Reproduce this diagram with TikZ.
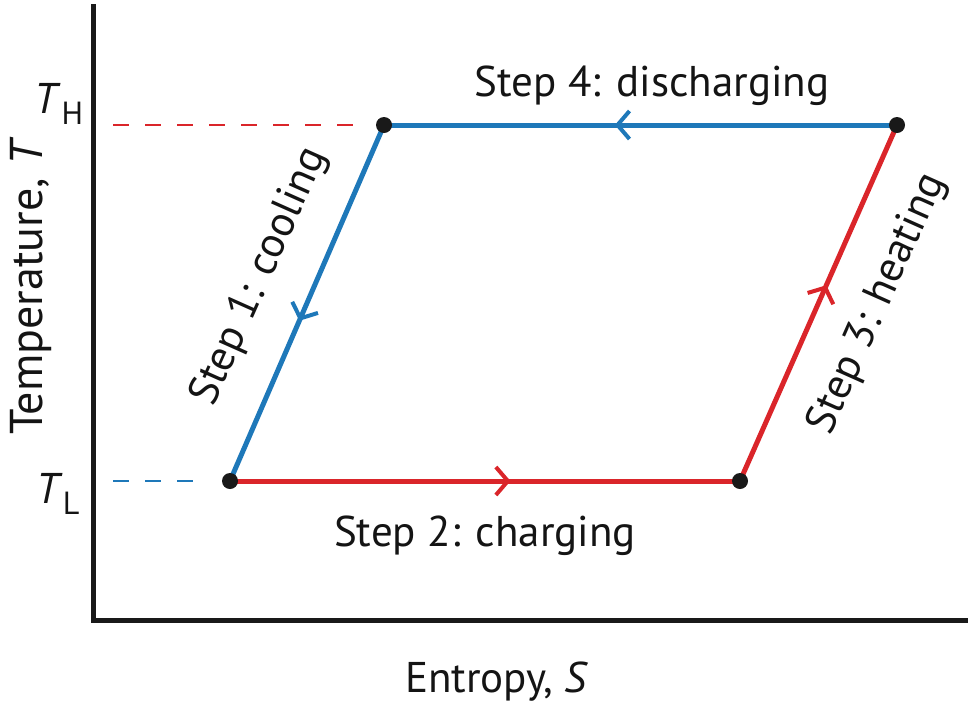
\documentclass[tikz,border=0pt]{standalone}
\usepackage{fontspec}
\setmainfont{PT Sans}
\usetikzlibrary{arrows.meta}
\usetikzlibrary{decorations.markings}
\usetikzlibrary{positioning}

\definecolor{hotred}{RGB}{218,37,42}
\definecolor{coldblue}{RGB}{30,120,185}

\begin{document}
\begin{tikzpicture}[
        x=0.5pt, y=-0.5pt,
        every node/.append style={font=\fontsize{21.5}{25}\selectfont, text=black!92},
        dot/.style={circle, fill=black!90, inner sep=0pt, minimum size=8pt},
        axis/.style={line width=2.5pt, black!90},
        level/.style={line width=1pt, dash pattern=on 8pt off 8pt},
        midarrow/.style={postaction={decorate}, decoration={markings,
            mark=at position 0.55 with {\arrow{Straight Barb[length=6pt, width=14pt, line width=2pt]}}}},
        stage/.style={line width=2.5pt, midarrow}
    ]
        \useasboundingbox (0,0) rectangle (968,708);

        % axes
        \coordinate (top) at (93,6);
        \coordinate (origin) at (93,620);
        \coordinate (right) at (968,620);
        \draw [axis, line cap=rect] (top) -- (origin) -- (right);

        % corners of the cycle
        \coordinate (a) at (384,125);
        \coordinate (b) at (897,125);
        \coordinate (c) at (740,481);
        \coordinate (d) at (230,481);

        \coordinate (th) at (113,125);
        \coordinate (tl) at (113,481);
        \draw [level, hotred] (th) -- ([xshift=-11pt]a);
        \draw [level, coldblue] (tl) -- ([xshift=-16pt]d);

        \draw [stage, coldblue] (a) -- (d);
        \draw [stage, hotred] (d) -- (c);
        \draw [stage, hotred] (c) -- (b);
        \draw [stage, coldblue] (b) -- (a);

        \node (A) [dot] at (a) {};
        \node (B) [dot] at (b) {};
        \node (C) [dot] at (c) {};
        \node (D) [dot] at (d) {};

        % labels
        \node (s4) at (652,86) {Step 4: discharging};
        \node (s2) at (485,536) {Step 2: charging};
        \node (s1) [rotate=66] at (260,277) {Step 1: cooling};
        \node (s3) [rotate=66] at (878,304) {Step 3: heating};

        \node (TH) at (59,104) {\textit{T}\raisebox{-0.5ex}{\fontsize{16}{18}\selectfont H}};
        \node (TL) at (58,494) {\textit{T}\raisebox{-0.5ex}{\fontsize{16}{18}\selectfont L}};
        \node (ylab) [rotate=90, font=\fontsize{23}{27}\selectfont] at (31,286) {Temperature, \textit{T}};
        \node (xlab) at (497,682) {Entropy, \textit{S}};
    \end{tikzpicture}
\end{document}
